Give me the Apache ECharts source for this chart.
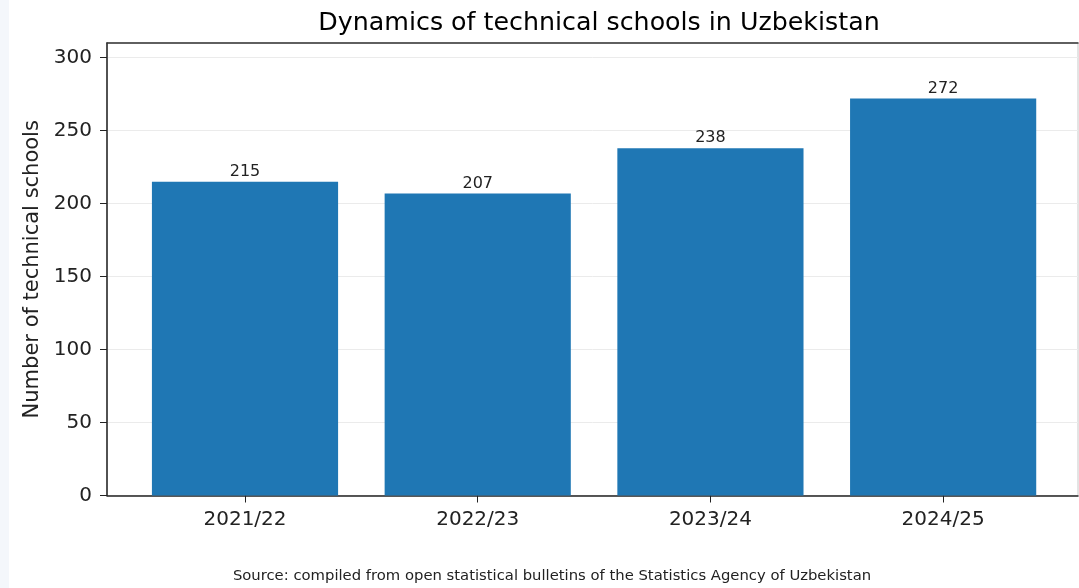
<!DOCTYPE html>
<html>
<head>
<meta charset="utf-8">
<script src="https://cdn.jsdelivr.net/npm/echarts@6/dist/echarts.min.js"></script>
<style>
    html, body { margin: 0; padding: 0; background: #fff; }
    #chart { width: 1079px; height: 588px; }
</style>
</head>
<body>
<div id="chart"></div>
<script>
// data
var years = ['2021/22', '2022/23', '2023/24', '2024/25'];
var schools = [215, 207, 238, 272];
var yTicks = [0, 50, 100, 150, 200, 250, 300];

var font = 'DejaVu Sans';
var yMax = 310.08;

var chart = echarts.init(document.getElementById('chart'));
chart.setOption({
    backgroundColor: '#fff',
    animation: false,
    title: {
        text: 'Dynamics of technical schools in Uzbekistan',
        left: 594, top: 6, textAlign: 'center',
        textStyle: { fontFamily: font, fontSize: 25.3, fontWeight: 'normal', color: '#000' }
    },
    graphic: [
        // light strip at left edge
        { type: 'rect', left: 0, top: 0, shape: { width: 9, height: 588 }, style: { fill: '#f4f7fb' }, silent: true },
        {
            type: 'text',
            style: {
                x: 552, y: 576,
                text: 'Source: compiled from open statistical bulletins of the Statistics Agency of Uzbekistan',
                font: '14.8px "DejaVu Sans"', fill: '#222', align: 'center', verticalAlign: 'middle'
            }
        }
    ],
    grid: [
        // frame
        { left: 107, right: 1, top: 43, bottom: 92.5, show: true, borderColor: '#c8c8c8', borderWidth: 1, backgroundColor: 'transparent' },
        // bars
        { left: 128.65, right: 19.5, top: 43, bottom: 92.5 }
    ],
    xAxis: [
        {
            gridIndex: 0, type: 'category', data: years,
            axisLine: { show: true, lineStyle: { color: '#222', width: 1.5 } },
            axisTick: { show: false }, axisLabel: { show: false }
        },
        {
            gridIndex: 1, type: 'category', data: years,
            axisLine: { show: false },
            axisTick: { show: true, alignWithLabel: true, length: 7, lineStyle: { color: '#222' } },
            axisLabel: { fontFamily: font, fontSize: 20, color: '#222', margin: 14 }
        },
        {
            // top spine
            gridIndex: 0, type: 'category', data: years, position: 'top',
            axisLine: { show: true, lineStyle: { color: '#333', width: 1.5 } },
            axisTick: { show: false }, axisLabel: { show: false }
        }
    ],
    yAxis: [
        {
            gridIndex: 0, type: 'value', min: 0, max: yMax, interval: 50,
            name: 'Number of technical schools', nameLocation: 'middle', nameGap: 62,
            nameTextStyle: { fontFamily: font, fontSize: 21, color: '#222' },
            axisLine: { show: true, lineStyle: { color: '#222', width: 1.5 } },
            axisTick: { show: true, length: 7, lineStyle: { color: '#222' } },
            axisLabel: {
                fontFamily: font, fontSize: 20, color: '#222', margin: 15, showMaxLabel: false,
                formatter: function (v) { return yTicks.indexOf(v) >= 0 ? String(v) : ''; }
            },
            splitLine: { show: true, lineStyle: { color: '#ebebeb', width: 1 } }
        },
        { gridIndex: 1, type: 'value', min: 0, max: yMax, show: false, splitLine: { show: false } }
    ],
    series: [{
        type: 'bar', xAxisIndex: 1, yAxisIndex: 1,
        data: schools, barWidth: '80%',
        itemStyle: { color: '#1f77b4' },
        label: { show: true, position: 'top', distance: 2, fontFamily: font, fontSize: 16, color: '#222' }
    }]
});
</script>
</body>
</html>
